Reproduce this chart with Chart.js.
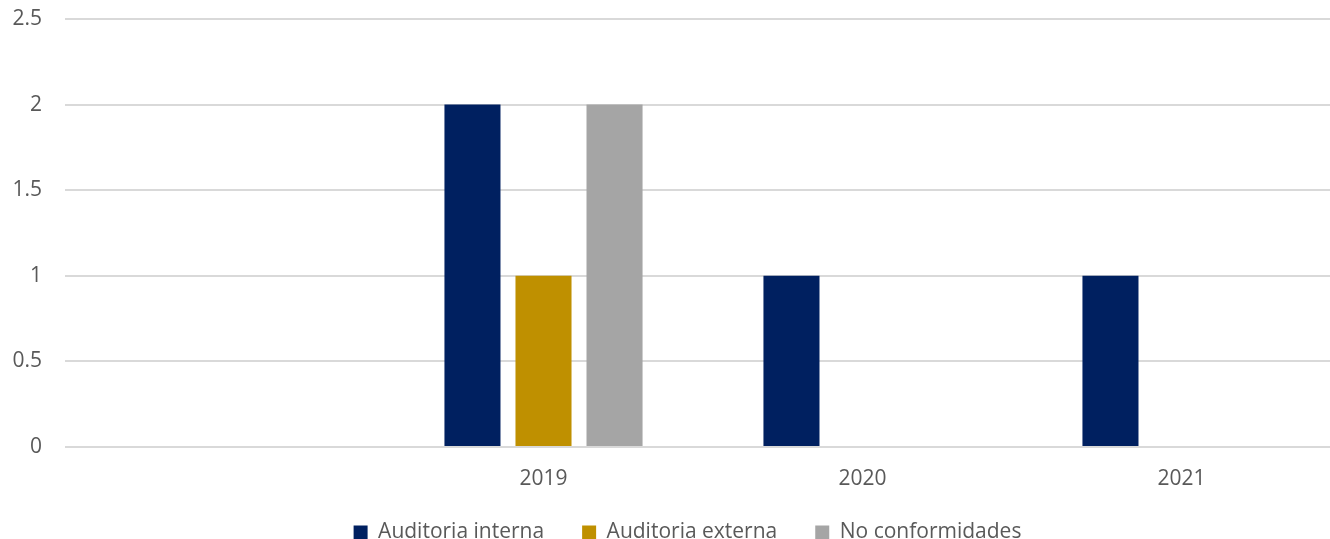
<!DOCTYPE html>
<html><head><meta charset="utf-8">
<script src="https://cdn.jsdelivr.net/npm/chart.js@4/dist/chart.umd.min.js"></script>
<style>
html,body{margin:0;padding:0;overflow:hidden;background:#fff;width:1330px;height:539px}
#wrap{position:absolute;left:0;top:0;width:1342px;height:539px}
</style></head>
<body><div id="wrap"><canvas id="c"></canvas></div>
<script>
const categories = ['', '2019', '2020', '2021'];
const seriesNames = ['Auditoria interna', 'Auditoria externa', 'No conformidades'];
const auditoriaInterna = [null, 2, 1, 1];
const auditoriaExterna = [null, 1, 0, 0];
const noConformidades = [null, 2, 0, 0];
const yTickValues = [0, 0.5, 1, 1.5, 2, 2.5];
const yTickLabels = ['0', '0.5', '1', '1.5', '2', '2.5'];
const seriesColors = ['#002060', '#BF9000', '#A5A5A5'];

const FONT = '"Open Sans", "Liberation Sans", sans-serif';
const TEXT = '#595959';

const layoutTweaks = {
  id: 'layoutTweaks',
  afterLayout(chart) {
    const l = chart.legend;
    if (l) { l.left += 17; l.right += 17; l.top += 2; l.bottom += 2; }
    const x = chart.scales.x;
    if (x) { x.bottom += 30; }
  }
};

new Chart(document.getElementById('c'), {
  type: 'bar',
  data: {
    labels: categories,
    datasets: [auditoriaInterna, auditoriaExterna, noConformidades].map((d, i) => ({
      label: seriesNames[i],
      data: d,
      backgroundColor: seriesColors[i],
      borderWidth: 0,
      categoryPercentage: 0.668,
      barPercentage: 0.789
    }))
  },
  options: {
    responsive: true,
    maintainAspectRatio: false,
    animation: false,
    layout: { padding: { top: 19, right: 1, bottom: -12, left: 0 } },
    plugins: {
      tooltip: { enabled: false },
      legend: {
        position: 'bottom',
        labels: {
          boxWidth: 14, boxHeight: 14, padding: 38,
          color: TEXT, font: { family: FONT, size: 21 }
        }
      }
    },
    scales: {
      x: {
        grid: { display: false, drawTicks: false },
        border: { display: false },
        ticks: { color: TEXT, font: { family: FONT, size: 21 }, padding: 19, maxRotation: 0 },
        afterFit(scale) { scale.height = 35; }
      },
      y: {
        min: 0, max: 2.5,
        afterBuildTicks(scale) { scale.ticks = yTickValues.map(v => ({ value: v })); },
        grid: { color: '#D9D9D9', lineWidth: 2, drawTicks: true, tickLength: 23, tickColor: 'rgba(0,0,0,0)' },
        border: { display: false },
        ticks: {
          color: TEXT, font: { family: FONT, size: 21 }, padding: 0,
          callback: (v, i) => yTickLabels[i]
        },
        afterFit(scale) { scale.width = 65; }
      }
    }
  },
  plugins: [layoutTweaks]
});
</script>
</body></html>
